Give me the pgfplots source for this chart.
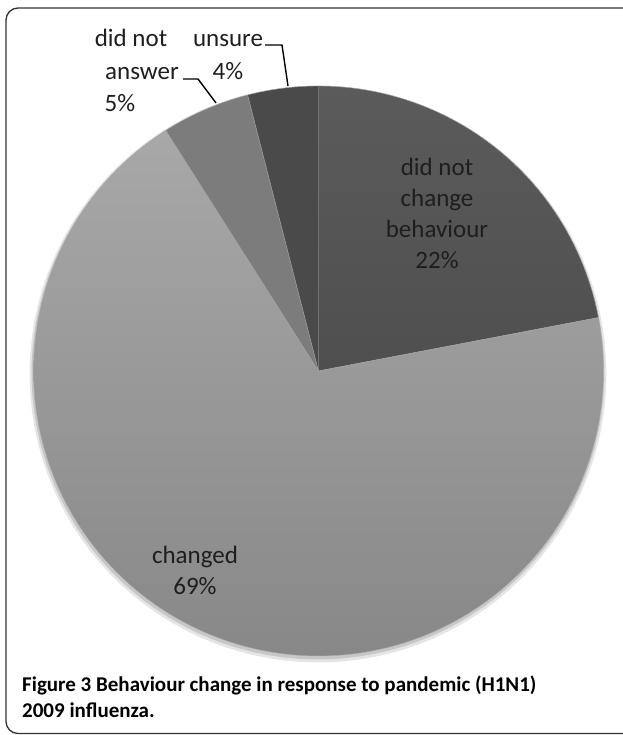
\documentclass[border=0pt]{standalone}
\usepackage{pgfplots}
\pgfplotsset{compat=1.18}
\usepackage{pgfplotstable}
\usepackage{fontspec}
\setmainfont{Carlito}

\pgfplotstableread{
label value
didnotchange 22
changed 69
didnotanswer 5
unsure 4
}\piedata

\definecolor{cDNC}{HTML}{4F4F4F}
\definecolor{cDNCtop}{HTML}{5B5B5B}
\definecolor{cCHtop}{HTML}{A8A8A8}
\definecolor{cCHbot}{HTML}{888888}
\definecolor{cDNA}{HTML}{7C7C7C}
\definecolor{cUNS}{HTML}{4A4A4A}
\definecolor{txt}{HTML}{1E1E1E}

\pgfplotstablegetelem{0}{value}\of\piedata\let\vA\pgfplotsretval%
\pgfplotstablegetelem{1}{value}\of\piedata\let\vB\pgfplotsretval%
\pgfplotstablegetelem{2}{value}\of\piedata\let\vC\pgfplotsretval%
\pgfplotstablegetelem{3}{value}\of\piedata\let\vD\pgfplotsretval%
\pgfmathsetmacro\aA{90}
\pgfmathsetmacro\aB{\aA-3.6*\vA}
\pgfmathsetmacro\aC{\aB-3.6*\vB}
\pgfmathsetmacro\aD{\aC-3.6*\vC}
\pgfmathsetmacro\aE{\aD-3.6*\vD}
\def\cx{318.5}
\def\cy{364}
\def\R{285}
\newcommand\lbl{\fontsize{25}{31}\selectfont}

\begin{document}%
\begin{tikzpicture}
\begin{axis}[width=622pt, height=735pt, scale only axis,
  xmin=0, xmax=622, ymin=0, ymax=735,
  axis lines=none, clip=false, samples=120]
  \coordinate (bl) at (axis cs:0,0);
  \coordinate (tr) at (axis cs:622,735);
  % shadow
  \addplot[draw=none, fill=black!10, domain=0:360, variable=\t]
    ({\cx-0.5+(\R+3.5)*cos(t)}, {\cy-3+(\R+3.5)*sin(t)}) -- cycle;
  \addplot[draw=none, fill=black!22, domain=0:360, variable=\t]
    ({\cx-0.5+(\R+1.5)*cos(t)}, {\cy-2+(\R+1.5)*sin(t)}) -- cycle;
  % sectors
  \addplot[draw=gray!70, line width=0.4pt, top color=cDNCtop, bottom color=cDNC, domain=\aB:\aA, variable=\t]
    ({\cx+\R*cos(t)}, {\cy+\R*sin(t)}) -- (axis cs:\cx,\cy) -- cycle;
  \addplot[draw=gray!70, line width=0.4pt, top color=cCHtop, bottom color=cCHbot, domain=\aC:\aB, variable=\t]
    ({\cx+\R*cos(t)}, {\cy+\R*sin(t)}) -- (axis cs:\cx,\cy) -- cycle;
  \addplot[draw=gray!70, line width=0.4pt, fill=cDNA, domain=\aD:\aC, variable=\t]
    ({\cx+\R*cos(t)}, {\cy+\R*sin(t)}) -- (axis cs:\cx,\cy) -- cycle;
  \addplot[draw=gray!70, line width=0.4pt, fill=cUNS, domain=\aE:\aD, variable=\t]
    ({\cx+\R*cos(t)}, {\cy+\R*sin(t)}) -- (axis cs:\cx,\cy) -- cycle;
  % labels
  \node[anchor=base, align=center, text=txt, font=\lbl] at (axis cs:437,466) {did not\\change\\behaviour\\22\%};
  \node[anchor=base, align=center, text=txt, font=\lbl] at (axis cs:195,140) {changed\\69\%};
  \node[anchor=base, text=txt, font=\lbl] at (axis cs:131,688) {did not};
  \node[anchor=base, text=txt, font=\lbl] at (axis cs:228,688) {unsure};
  \node[anchor=base, text=txt, font=\lbl] at (axis cs:142,655) {answer};
  \node[anchor=base, text=txt, font=\lbl] at (axis cs:228,655) {4\%};
  \node[anchor=base, text=txt, font=\lbl] at (axis cs:120,623) {5\%};
  % leader lines
  \draw[line width=1.4pt, black] (axis cs:265,690) -- (axis cs:282,690) -- (axis cs:288,649);
  \draw[line width=1.4pt, black] (axis cs:183,656) -- (axis cs:198,656) -- (axis cs:216,632);
  % caption
  \node[anchor=base west, align=left, text=black, inner sep=0pt, font=\fontsize{21}{26}\selectfont\bfseries] at (axis cs:22,17) {Figure 3 Behaviour change in response to pandemic (H1N1)\\2009 influenza.};
  % frame
  \draw[line width=1.3pt, black!80, rounded corners=12pt] (axis cs:640,727) -- (axis cs:6,727) -- (axis cs:6,1.5) -- (axis cs:640,1.5);
\end{axis}
\pgfresetboundingbox
\path[use as bounding box] (bl) rectangle (tr);
\end{tikzpicture}%
\end{document}
